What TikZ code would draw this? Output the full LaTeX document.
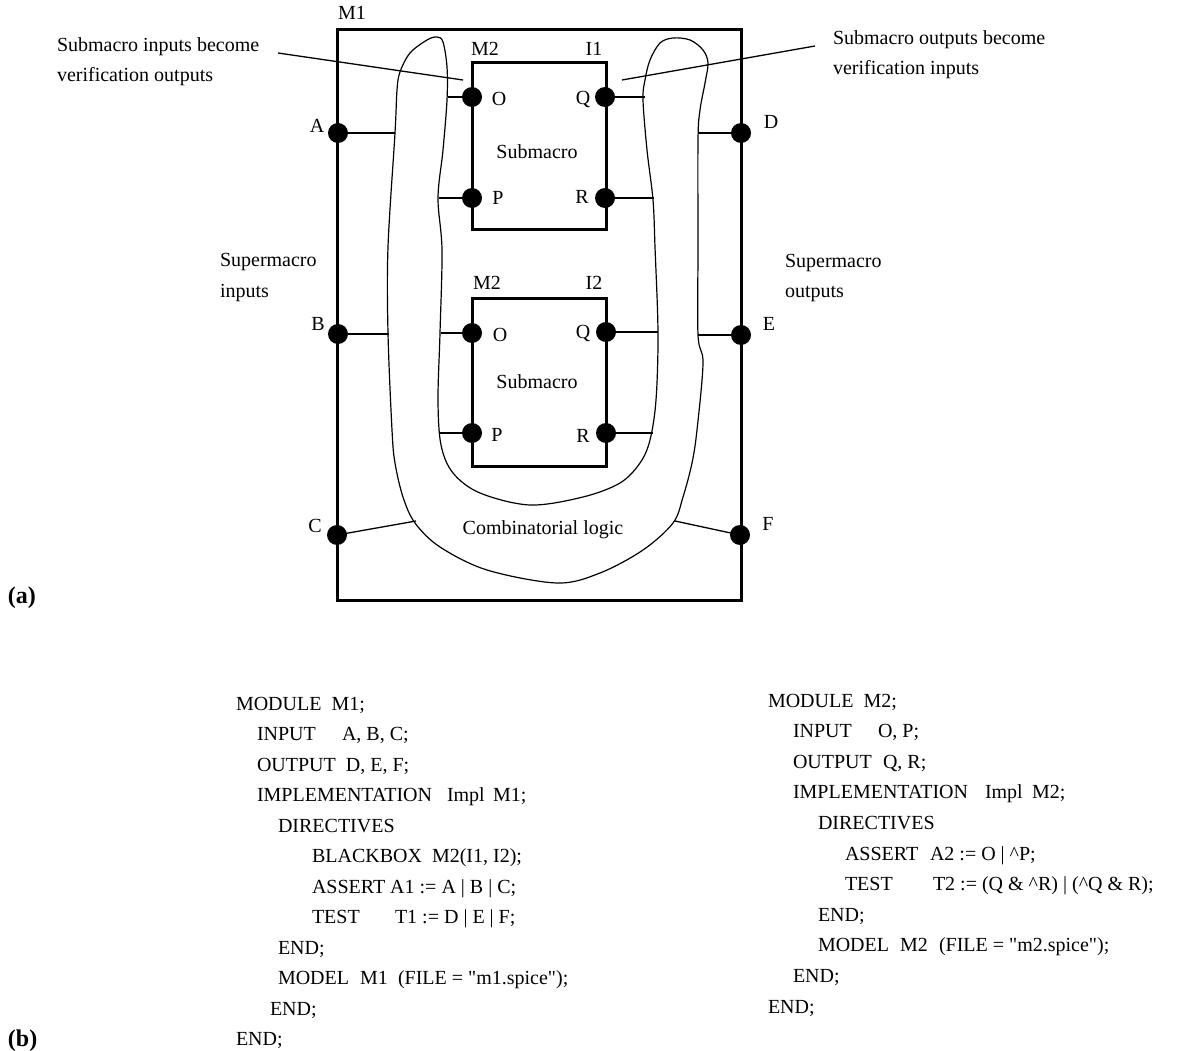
\documentclass[tikz,border=0pt]{standalone}
\usepackage{fontspec}
\setmainfont{Liberation Serif}
\begin{document}
\begin{tikzpicture}[x=1pt,y=-1pt,
  txt/.style={font=\fontsize{20}{24}\selectfont, inner sep=0pt, outer sep=0pt},
  code/.style={txt, anchor=base west},
  lab/.style={txt, anchor=base},
  boxthick/.style={draw, line width=3pt, inner sep=0pt},
  pindot/.style={circle, fill=black, inner sep=0pt, minimum size=20pt},
  stub/.style={line width=1.3pt},
  blob/.style={line width=1.2pt},
  callout/.style={line width=1.3pt}]
\useasboundingbox (0,0) rectangle (1181,1051);

% outer supermacro box
\node[boxthick, minimum width=404pt, minimum height=570pt] (M1box) at (539,315) {};
\node[lab] (M1lab) at (352,20) {M1};

% submacro boxes
\node[boxthick, minimum width=134pt, minimum height=167pt] (S1) at (539,146.5) {};
\node[boxthick, minimum width=134pt, minimum height=168pt] (S2) at (539,382) {};
\node[lab] (S1m) at (485,56) {M2};
\node[lab] (S1i) at (594,56) {I1};
\node[lab] (S2m) at (487,290) {M2};
\node[lab] (S2i) at (594,290) {I2};
\node[lab] (S1t) at (537,159) {Submacro};
\node[lab] (S2t) at (537,388) {Submacro};

% combinatorial logic region
\draw[blob] plot[smooth cycle, tension=0.55] coordinates {
 (437,37) (443,42) (447,67) (447,100) (443,150) (438,198) (442,250)
 (440,333) (438,400) (441,445) (453,473) (480,493) (530,505) (583,497)
 (620,483) (640,463) (650,440) (656,400) (658,333) (655,247) (653,200)
 (647,150) (643,100) (645,80) (650,60) (660,43) (673,38) (690,40)
 (703,50) (708,63) (705,83) (700,110) (698,140) (698,247) (698,335)
 (703,363) (697,430) (692,463) (683,497) (673,523) (643,550) (600,573)
 (557,583) (487,570) (440,547) (415,523) (403,497) (395,463) (392,430)
 (388,333) (388,247) (395,133) (397,90) (400,72) (410,53) (427,40)};
\node[lab] (CL) at (543,534) {Combinatorial logic};

% outer pins
\node[pindot] (A) at (338,133) {};
\node[pindot] (B) at (338,334) {};
\node[pindot] (C) at (337,535) {};
\node[pindot] (D) at (741,133) {};
\node[pindot] (E) at (741,335) {};
\node[pindot] (F) at (740,535) {};
\node[lab] (Al) at (317,133) {A};
\node[lab] (Bl) at (318,330) {B};
\node[lab] (Cl) at (315,532) {C};
\node[lab] (Dl) at (771,129) {D};
\node[lab] (El) at (769,330) {E};
\node[lab] (Fl) at (768,530) {F};

% submacro pins
\node[pindot] (O1) at (472,97) {};
\node[pindot] (P1) at (472,198) {};
\node[pindot] (Q1) at (605,97) {};
\node[pindot] (R1) at (605,198) {};
\node[pindot] (O2) at (472,333) {};
\node[pindot] (P2) at (472,433) {};
\node[pindot] (Q2) at (606,332) {};
\node[pindot] (R2) at (606,433) {};
\node[lab] (O1l) at (499,106) {O};
\node[lab] (P1l) at (498,205) {P};
\node[lab] (Q1l) at (583,105) {Q};
\node[lab] (R1l) at (582,204) {R};
\node[lab] (O2l) at (500,341) {O};
\node[lab] (P2l) at (497,441) {P};
\node[lab] (Q2l) at (583,338) {Q};
\node[lab] (R2l) at (583,442) {R};

% stub end points on the logic region
\coordinate (a1) at (395,133);
\coordinate (b1) at (389,334);
\coordinate (c1) at (416,521);
\coordinate (d1) at (698,133);
\coordinate (e1) at (698,335);
\coordinate (f1) at (675,521);
\coordinate (o1) at (448,97);
\coordinate (p1) at (439,198);
\coordinate (q1) at (645,97);
\coordinate (r1) at (654,198);
\coordinate (o2) at (441,333);
\coordinate (p2) at (439,433);
\coordinate (q2) at (658,332);
\coordinate (r2) at (653,433);
\draw[stub] (A.center) -- (a1);
\draw[stub] (B.center) -- (b1);
\draw[stub] (C.center) -- (c1);
\draw[stub] (D.center) -- (d1);
\draw[stub] (E.center) -- (e1);
\draw[stub] (F.center) -- (f1);
\draw[stub] (O1.center) -- (o1);
\draw[stub] (P1.center) -- (p1);
\draw[stub] (Q1.center) -- (q1);
\draw[stub] (R1.center) -- (r1);
\draw[stub] (O2.center) -- (o2);
\draw[stub] (P2.center) -- (p2);
\draw[stub] (Q2.center) -- (q2);
\draw[stub] (R2.center) -- (r2);

% callouts
\node[code] (ci1) at (57,52) {Submacro inputs become};
\node[code] (ci2) at (57,82) {verification outputs};
\node[code] (co1) at (833,45) {Submacro outputs become};
\node[code] (co2) at (833,75) {verification inputs};
\coordinate (cil) at (278,53);
\coordinate (cie) at (463,80);
\coordinate (col) at (815,46);
\coordinate (coe) at (622,80);
\draw[callout] (cil) -- (cie);
\draw[callout] (col) -- (coe);

\node[code] (si1) at (220,266) {Supermacro};
\node[code] (si2) at (220,297) {inputs};
\node[code] (so1) at (785,267) {Supermacro};
\node[code] (so2) at (785,297) {outputs};

% panel labels
\node[code, font=\fontsize{24}{28}\selectfont\bfseries] (pa) at (8,603) {(a)};
\node[code, font=\fontsize{24}{28}\selectfont\bfseries] (pb) at (8,1046) {(b)};

% left code
\node[code] (l0) at (236,710) {MODULE\ \ M1;};
\node[code] (l1a) at (257,740.5) {INPUT};
\node[code] (l1b) at (342,740.5) {A, B, C;};
\node[code] (l2) at (257,771) {OUTPUT\ \ D, E, F;};
\node[code] (l3a) at (257,801.5) {IMPLEMENTATION};
\node[code] (l3b) at (447,801.5) {Impl};
\node[code] (l3c) at (493,801.5) {M1;};
\node[code] (l4) at (278,832) {DIRECTIVES};
\node[code] (l5a) at (312,862.5) {BLACKBOX};
\node[code] (l5b) at (432,862.5) {M2(I1, I2);};
\node[code] (l6) at (312,893) {ASSERT A1 := A | B | C;};
\node[code] (l7a) at (312,923.5) {TEST};
\node[code] (l7b) at (395,923.5) {T1 := D | E | F;};
\node[code] (l8) at (278,954) {END;};
\node[code] (l9a) at (278,984.5) {MODEL};
\node[code] (l9b) at (360,984.5) {M1};
\node[code] (l9c) at (398,984.5) {(FILE = \textquotedbl m1.spice\textquotedbl);};
\node[code] (l10) at (270,1015) {END;};
\node[code] (l11) at (236,1045.5) {END;};

% right code
\node[code] (r0) at (768,707) {MODULE\ \ M2;};
\node[code] (r1a) at (793,737.6) {INPUT};
\node[code] (r1b) at (878,737.6) {O, P;};
\node[code] (r2a) at (793,768.2) {OUTPUT};
\node[code] (r2b) at (883,768.2) {Q, R;};
\node[code] (r3a) at (793,798.8) {IMPLEMENTATION};
\node[code] (r3b) at (985,798.8) {Impl};
\node[code] (r3c) at (1032,798.8) {M2;};
\node[code] (r4) at (818,829.4) {DIRECTIVES};
\node[code] (r5a) at (845,860) {ASSERT};
\node[code] (r5b) at (930,860) {A2 := O | \textasciicircum P;};
\node[code] (r6a) at (845,890.6) {TEST};
\node[code] (r6b) at (933,890.6) {T2 := (Q \& \textasciicircum R) | (\textasciicircum Q \& R);};
\node[code] (r7) at (818,921.2) {END;};
\node[code] (r8a) at (818,951.8) {MODEL};
\node[code] (r8b) at (900,951.8) {M2};
\node[code] (r8c) at (939,951.8) {(FILE = \textquotedbl m2.spice\textquotedbl);};
\node[code] (r9) at (793,982.4) {END;};
\node[code] (r10) at (768,1013) {END;};
\end{tikzpicture}
\end{document}
